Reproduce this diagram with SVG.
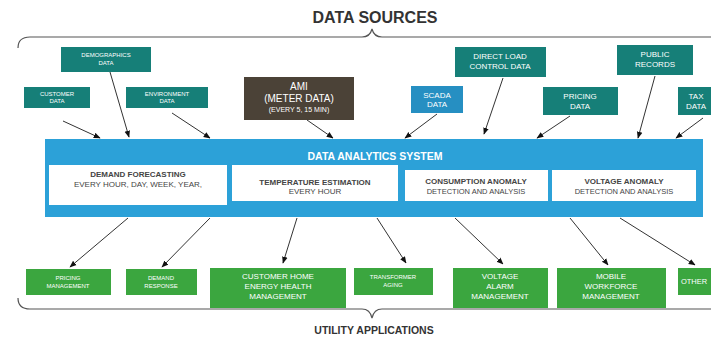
<svg xmlns="http://www.w3.org/2000/svg" width="711" height="338" viewBox="0 0 711 338">
<defs>
<marker id="ah" viewBox="0 0 10 10" refX="9" refY="5" markerWidth="7" markerHeight="7" orient="auto" markerUnits="userSpaceOnUse">
<path d="M0,1 L10,5 L0,9 Z" fill="#111"/>
</marker>
<style>
.teal{fill:#167f78}
.green{fill:#3ba63f}
.t{font-family:"Liberation Sans",Arial,sans-serif;fill:#fff;text-anchor:middle}
.s{font-size:6px}
.m{font-size:8px}
.d{font-family:"Liberation Sans",Arial,sans-serif;fill:#444;text-anchor:middle}
.c{stroke:#333;stroke-width:1;fill:none;marker-end:url(#ah)}
.brace{stroke:#555;stroke-width:1.2;fill:none}
</style>
</defs>
<rect width="711" height="338" fill="#fff"/>
<text x="375" y="23" font-family="Liberation Sans,Arial,sans-serif" font-weight="bold" font-size="16" fill="#333" text-anchor="middle">DATA SOURCES</text>
<path class="brace" d="M18,48 Q18,37 30,37 L362,37 Q370,37 372,29 Q374,37 382,37 L711,37"/>
<path class="brace" d="M18,298 Q18,309 30,309 L362,309 Q370,309 372,318 Q374,309 382,309 L711,309"/>
<text x="374" y="334" font-family="Liberation Sans,Arial,sans-serif" font-weight="bold" font-size="10.5" fill="#333" text-anchor="middle">UTILITY APPLICATIONS</text>

<g id="customer-data"><rect class="teal" x="24" y="87" width="66" height="21"/><text class="t s" x="57" y="96">CUSTOMER</text><text class="t s" x="57" y="103">DATA</text></g>
<g id="demographics-data"><rect class="teal" x="61" y="47" width="90" height="25"/><text class="t s" x="106" y="57">DEMOGRAPHICS</text><text class="t s" x="106" y="65">DATA</text></g>
<g id="environment-data"><rect class="teal" x="126" y="87" width="82" height="21"/><text class="t s" x="167" y="96">ENVIRONMENT</text><text class="t s" x="167" y="103">DATA</text></g>
<g id="ami"><rect x="244" y="77" width="110" height="43" fill="#4b4237"/><text class="t" font-size="10" x="299" y="90">AMI</text><text class="t" font-size="10" x="299" y="102">(METER DATA)</text><text class="t" font-size="7" x="299" y="112">(EVERY 5, 15 MIN)</text></g>
<g id="scada-data"><rect x="411" y="86" width="52" height="27" fill="#268fc2"/><text class="t m" x="437" y="98">SCADA</text><text class="t m" x="437" y="107">DATA</text></g>
<g id="direct-load"><rect class="teal" x="455" y="47" width="91" height="30"/><text class="t m" x="500" y="59">DIRECT LOAD</text><text class="t m" x="500" y="69">CONTROL DATA</text></g>
<g id="pricing-data"><rect class="teal" x="543" y="87" width="75" height="28"/><text class="t m" x="580" y="99">PRICING</text><text class="t m" x="580" y="109">DATA</text></g>
<g id="public-records"><rect class="teal" x="617" y="45" width="76" height="30"/><text class="t m" x="655" y="57">PUBLIC</text><text class="t m" x="655" y="67">RECORDS</text></g>
<g id="tax-data"><rect class="teal" x="678" y="87" width="40" height="28"/><text class="t m" x="696" y="99">TAX</text><text class="t m" x="696" y="109">DATA</text></g>

<g id="data-analytics-system">
<rect x="45" y="139" width="658" height="78" fill="#2ca1d8"/>
<text x="375" y="160" font-family="Liberation Sans,Arial,sans-serif" font-weight="bold" font-size="10.5" fill="#fff" text-anchor="middle">DATA ANALYTICS SYSTEM</text>
<rect x="49" y="165" width="178" height="40" fill="#fff"/>
<text class="d" x="138" y="177" font-size="8" font-weight="bold">DEMAND FORECASTING</text>
<text class="d" x="138" y="187" font-size="8">EVERY HOUR, DAY, WEEK, YEAR,</text>
<rect x="232" y="165" width="166" height="36" fill="#fff"/>
<text class="d" x="315" y="185" font-size="8" font-weight="bold">TEMPERATURE ESTIMATION</text>
<text class="d" x="315" y="194" font-size="8">EVERY HOUR</text>
<rect x="405" y="170" width="143" height="31" fill="#fff"/>
<text class="d" x="476" y="184" font-size="8" font-weight="bold">CONSUMPTION ANOMALY</text>
<text class="d" x="476" y="194" font-size="7.5">DETECTION AND ANALYSIS</text>
<rect x="552" y="170" width="144" height="31" fill="#fff"/>
<text class="d" x="624" y="184" font-size="8" font-weight="bold">VOLTAGE ANOMALY</text>
<text class="d" x="624" y="194" font-size="7.5">DETECTION AND ANALYSIS</text>
</g>

<g id="pricing-management"><rect class="green" x="26" y="269" width="85" height="26"/><text class="t s" x="68" y="280">PRICING</text><text class="t s" x="68" y="288">MANAGEMENT</text></g>
<g id="demand-response"><rect class="green" x="126" y="269" width="71" height="26"/><text class="t s" x="161" y="280">DEMAND</text><text class="t s" x="161" y="288">RESPONSE</text></g>
<g id="customer-home"><rect class="green" x="210" y="268" width="136" height="40" /><text class="t m" x="278" y="279">CUSTOMER HOME</text><text class="t m" x="278" y="289">ENERGY HEALTH</text><text class="t m" x="278" y="299">MANAGEMENT</text></g>
<g id="transformer-aging"><rect class="green" x="354" y="268" width="79" height="27"/><text class="t s" x="393" y="279">TRANSFORMER</text><text class="t s" x="393" y="287">AGING</text></g>
<g id="voltage-alarm"><rect class="green" x="453" y="268" width="95" height="40"/><text class="t m" x="500" y="279">VOLTAGE</text><text class="t m" x="500" y="289">ALARM</text><text class="t m" x="500" y="299">MANAGEMENT</text></g>
<g id="mobile-workforce"><rect class="green" x="557" y="268" width="109" height="40"/><text class="t m" x="611" y="279">MOBILE</text><text class="t m" x="611" y="289">WORKFORCE</text><text class="t m" x="611" y="299">MANAGEMENT</text></g>
<g id="other"><rect class="green" x="678" y="268" width="40" height="27"/><text class="t" font-size="7.5" x="694" y="284">OTHER</text></g>

<g id="connectors">
<line class="c" x1="63" y1="121" x2="100" y2="138"/>
<line class="c" x1="110" y1="72" x2="129" y2="137"/>
<line class="c" x1="172" y1="113" x2="210" y2="138"/>
<line class="c" x1="307" y1="120" x2="333" y2="138"/>
<line class="c" x1="437" y1="114" x2="405" y2="138"/>
<line class="c" x1="503" y1="78" x2="484" y2="134"/>
<line class="c" x1="570" y1="116" x2="537" y2="138"/>
<line class="c" x1="655" y1="76" x2="638" y2="138"/>
<line class="c" x1="703" y1="118" x2="676" y2="138"/>
<line class="c" x1="128" y1="218" x2="70" y2="267"/>
<line class="c" x1="210" y1="218" x2="162" y2="267"/>
<line class="c" x1="297" y1="218" x2="283" y2="263"/>
<line class="c" x1="377" y1="218" x2="406" y2="263"/>
<line class="c" x1="455" y1="218" x2="503" y2="264"/>
<line class="c" x1="570" y1="218" x2="608" y2="265"/>
<line class="c" x1="620" y1="218" x2="695" y2="265"/>
</g>
</svg>
